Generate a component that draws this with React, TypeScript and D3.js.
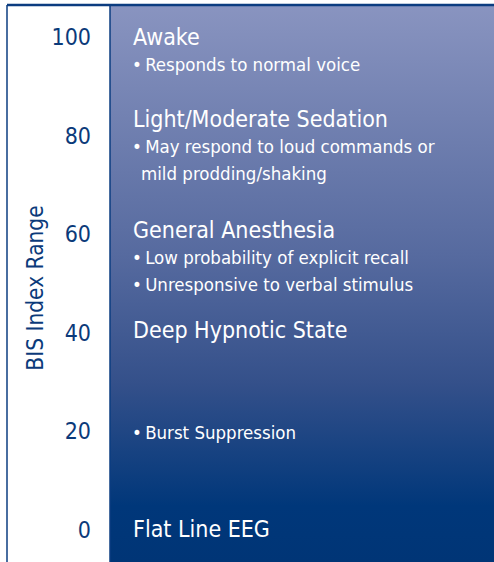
import * as d3 from 'd3'
import { useEffect, useRef } from 'react'

const W = 494
const H = 562

const ticks = [0, 20, 40, 60, 80, 100]
const axisTitle = 'BIS Index Range'

const stateNames = ['Awake', 'Light/Moderate Sedation', 'General Anesthesia', 'Deep Hypnotic State', '', 'Flat Line EEG']
const stateValues = [100, 83.2, 60.7, 40.4, 20, 0]
const stateNotes = [
  ['•\u2009Responds to normal voice'],
  ['•\u2009May respond to loud commands or', '  mild prodding/shaking'],
  ['•\u2009Low probability of explicit recall', '•\u2009Unresponsive to verbal stimulus'],
  [],
  ['•\u2009Burst Suppression'],
  [],
]

const FONT = "'DejaVu Sans Condensed', 'DejaVu Sans', sans-serif"
const NAVY = '#0b3a7a'

export default function App() {
  const svgRef = useRef<SVGSVGElement>(null)

  useEffect(() => {
    const svg = d3.select(svgRef.current!)
    svg.selectAll('*').remove()

    const leftX = 7
    const divX = 110
    const top = 5
    // scale gives text baseline
    const y = d3.scaleLinear().domain([0, 100]).range([537, 44.5])

    const defs = svg.append('defs')
    const grad = defs
      .append('linearGradient')
      .attr('id', 'bisGrad')
      .attr('x1', 0)
      .attr('y1', top)
      .attr('x2', 0)
      .attr('y2', H)
      .attr('gradientUnits', 'userSpaceOnUse')
    grad.append('stop').attr('offset', '0%').attr('stop-color', '#8994c0')
    grad.append('stop').attr('offset', '45%').attr('stop-color', '#566a9f')
    grad.append('stop').attr('offset', '68%').attr('stop-color', '#34508a')
    grad.append('stop').attr('offset', '90%').attr('stop-color', '#00377a')
    grad.append('stop').attr('offset', '100%').attr('stop-color', '#003576')

    svg.append('rect').attr('x', 0).attr('y', 0).attr('width', W).attr('height', H).attr('fill', '#fff')
    svg.append('rect').attr('x', divX).attr('y', top).attr('width', W - divX).attr('height', H - top).attr('fill', 'url(#bisGrad)')

    svg.append('line').attr('x1', leftX).attr('x2', W).attr('y1', top).attr('y2', top).attr('stroke', '#0b3c80').attr('stroke-width', 2.5)
    svg.append('line').attr('x1', leftX).attr('x2', leftX).attr('y1', top).attr('y2', H).attr('stroke', '#0b3c80').attr('stroke-width', 1.5)
    svg.append('line').attr('x1', divX).attr('x2', divX).attr('y1', top).attr('y2', H).attr('stroke', '#0b3c80').attr('stroke-width', 1.5)

    const axis = d3.axisLeft(y).tickValues(ticks).tickSize(0).tickPadding(0)
    const gy = svg.append('g').attr('transform', 'translate(91,0)').call(axis)
    gy.select('.domain').remove()
    gy.selectAll('text')
      .attr('fill', NAVY)
      .attr('font-family', FONT)
      .attr('font-size', 23)
      .attr('dy', 0)

    svg
      .append('text')
      .attr('transform', `translate(43,${288}) rotate(-90)`)
      .attr('text-anchor', 'middle')
      .attr('fill', NAVY)
      .attr('font-family', FONT)
      .attr('font-size', 22.5)
      .text(axisTitle)

    const tx = 133
    stateNames.forEach((name, i) => {
      const by = y(stateValues[i])
      const notes = stateNotes[i]
      if (name) {
        svg
          .append('text')
          .attr('x', tx)
          .attr('y', by)
          .attr('fill', '#fff')
          .attr('font-family', FONT)
          .attr('font-size', 23)
          .text(name)
      }
      notes.forEach((n, j) => {
        const off = name ? 26 + j * 27 : j * 27
        const indent = n.startsWith('  ')
        svg
          .append('text')
          .attr('x', indent ? tx + 8 : tx - 1)
          .attr('y', by + off)
          .attr('fill', '#fff')
          .attr('font-family', FONT)
          .attr('font-size', 18.5)
          .text(n.trim())
      })
    })
  }, [])

  return <svg ref={svgRef} width={W} height={H} style={{ position: 'absolute', left: 0, top: 0 }} />
}
